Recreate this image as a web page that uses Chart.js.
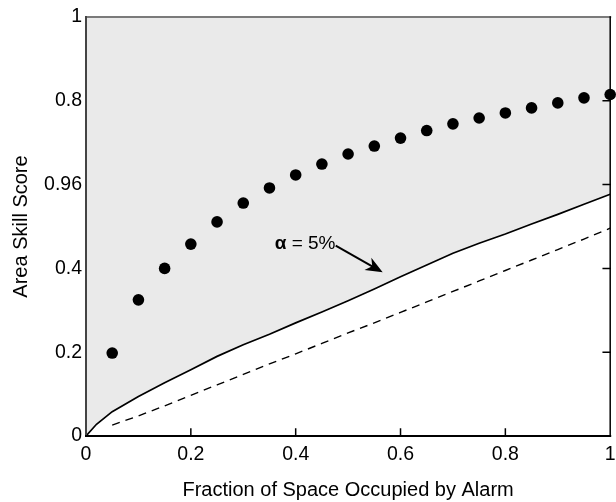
<!DOCTYPE html>
<html>
<head>
<meta charset="utf-8">
<script src="https://cdn.jsdelivr.net/npm/chart.js@4.4.1/dist/chart.umd.min.js"></script>
<style>
html, body { margin: 0; padding: 0; background: #fff; }
#wrap { width: 616px; height: 502px; }
</style>
</head>
<body>
<div id="wrap"><canvas id="chart1"></canvas></div>
<script>
// skill score dots
var dotX = [0.05, 0.1, 0.15, 0.2, 0.25, 0.3, 0.35, 0.4, 0.45, 0.5, 0.55, 0.6, 0.65, 0.7, 0.75, 0.8, 0.85, 0.9, 0.95, 1.0];
var dotY = [0.198, 0.325, 0.40, 0.458, 0.511, 0.556, 0.592, 0.623, 0.649, 0.673, 0.692, 0.711, 0.729, 0.745, 0.759, 0.771, 0.783, 0.795, 0.807, 0.815];

// alpha = 5% line (solid)
var lineX = [0, 0.02, 0.05, 0.1, 0.15, 0.2, 0.25, 0.3, 0.35, 0.4, 0.45, 0.5, 0.55, 0.6, 0.65, 0.7, 0.75, 0.8, 0.85, 0.9, 0.95, 1.0];
var lineY = [0, 0.028, 0.058, 0.094, 0.127, 0.158, 0.19, 0.218, 0.243, 0.27, 0.296, 0.323, 0.351, 0.38, 0.408, 0.436, 0.46, 0.482, 0.506, 0.529, 0.553, 0.577];

// dashed line
var dashX = [0.05, 0.1, 0.15, 0.2, 0.25, 0.3, 0.35, 0.4, 0.45, 0.5, 0.55, 0.6, 0.65, 0.7, 0.75, 0.8, 0.85, 0.9, 0.95, 1.0];
var dashY = [0.026, 0.048, 0.072, 0.097, 0.122, 0.147, 0.172, 0.196, 0.221, 0.246, 0.27, 0.295, 0.32, 0.345, 0.37, 0.395, 0.42, 0.445, 0.47, 0.496];

var xTicks = [0, 0.2, 0.4, 0.6, 0.8, 1];
var xLabels = ['0', '0.2', '0.4', '0.6', '0.8', '1'];
var yTicks = [0, 0.2, 0.4, 0.6, 0.8, 1];
var yLabels = ['0', '0.2', '0.4', '0.96', '0.8', '1'];

var fontName = '"Liberation Sans", Arial, sans-serif';

function toPoints(xs, ys) {
    var pts = [];
    for (let i = 0; i < xs.length; i++) pts.push({x: xs[i], y: ys[i]});
    return pts;
}

// frame, inward ticks and the alpha label
var frame = {
    id: 'frame',
    afterDatasetsDraw: function(chart) {
        var ctx = chart.ctx;
        var a = chart.chartArea;
        var xs = chart.scales.x;
        var ys = chart.scales.y;
        ctx.save();
        ctx.lineCap = 'square';
        ctx.lineWidth = 2;
        ctx.strokeStyle = '#7a7a7a';
        ctx.beginPath(); ctx.moveTo(a.left, a.top); ctx.lineTo(a.right, a.top); ctx.stroke();
        ctx.strokeStyle = '#444';
        ctx.beginPath(); ctx.moveTo(a.left, a.top); ctx.lineTo(a.left, a.bottom); ctx.stroke();
        ctx.strokeStyle = '#000';
        ctx.beginPath(); ctx.moveTo(a.left, a.bottom); ctx.lineTo(a.right, a.bottom); ctx.stroke();
        ctx.lineWidth = 1.5;
        ctx.beginPath(); ctx.moveTo(a.right, a.top); ctx.lineTo(a.right, a.bottom); ctx.stroke();
        // ticks
        ctx.lineWidth = 1.5;
        ctx.beginPath();
        for (let i = 1; i < xTicks.length - 1; i++) {
            var px = xs.getPixelForValue(xTicks[i]);
            ctx.moveTo(px, a.bottom); ctx.lineTo(px, a.bottom - 7);
        }
        for (let i = 1; i < yTicks.length - 1; i++) {
            var py = ys.getPixelForValue(yTicks[i]);
            ctx.moveTo(a.right, py); ctx.lineTo(a.right - 7, py);
        }
        ctx.stroke();

        // alpha label + arrow
        var tx = xs.getPixelForValue(0.36);
        var ty = ys.getPixelForValue(0.458);
        ctx.fillStyle = '#000';
        ctx.textBaseline = 'middle';
        ctx.textAlign = 'left';
        ctx.font = 'bold 19px ' + fontName;
        ctx.fillText('\u03b1', tx, ty);
        var w = ctx.measureText('\u03b1').width;
        ctx.font = '19px ' + fontName;
        ctx.fillText(' = 5%', tx + w, ty);

        var x0 = xs.getPixelForValue(0.478), y0 = ys.getPixelForValue(0.453);
        var x1 = xs.getPixelForValue(0.566), y1 = ys.getPixelForValue(0.391);
        var ang = Math.atan2(y1 - y0, x1 - x0);
        ctx.lineWidth = 2;
        ctx.beginPath(); ctx.moveTo(x0, y0);
        ctx.lineTo(x1 - 10 * Math.cos(ang), y1 - 10 * Math.sin(ang)); ctx.stroke();
        ctx.beginPath();
        ctx.moveTo(x1, y1);
        ctx.lineTo(x1 - 17 * Math.cos(ang) + 7 * Math.sin(ang), y1 - 17 * Math.sin(ang) - 7 * Math.cos(ang));
        ctx.lineTo(x1 - 12 * Math.cos(ang), y1 - 12 * Math.sin(ang));
        ctx.lineTo(x1 - 17 * Math.cos(ang) - 7 * Math.sin(ang), y1 - 17 * Math.sin(ang) + 7 * Math.cos(ang));
        ctx.closePath();
        ctx.fill();
        ctx.restore();
    }
};

var data = {
    datasets: [{
        label: 'skill',
        data: toPoints(dotX, dotY),
        showLine: false,
        pointRadius: 5.8,
        pointBackgroundColor: '#000',
        pointBorderWidth: 0,
        clip: false
    }, {
        label: 'alpha',
        data: toPoints(lineX, lineY),
        showLine: true,
        pointRadius: 0,
        borderColor: '#000',
        borderWidth: 1.7,
        fill: 'end',
        backgroundColor: '#eaeaea'
    }, {
        label: 'random',
        data: toPoints(dashX, dashY),
        showLine: true,
        pointRadius: 0,
        borderColor: '#000',
        borderWidth: 1.4,
        borderDash: [8, 6]
    }]
};

new Chart(document.getElementById('chart1'), {
    type: 'scatter',
    data: data,
    plugins: [frame],
    options: {
        responsive: true,
        maintainAspectRatio: false,
        animation: false,
        layout: { padding: { left: 0, right: 0, top: 17, bottom: 0 } },
        plugins: { legend: { display: false }, tooltip: { enabled: false } },
        scales: {
            x: {
                type: 'linear', min: 0, max: 1,
                afterBuildTicks: function(s) { s.ticks = xTicks.map(function(v) { return {value: v}; }); },
                afterFit: function(s) { s.height = 66; s.paddingLeft = 0; s.paddingRight = 5.5; },
                grid: { display: false, drawTicks: false },
                border: { display: false },
                ticks: {
                    color: '#000', padding: 7, maxRotation: 0,
                    font: { family: fontName, size: 19.5 },
                    callback: function(v) { return xLabels[xTicks.indexOf(v)]; }
                },
                title: {
                    display: true, text: 'Fraction of Space Occupied by Alarm', color: '#000',
                    font: { family: fontName, size: 20 }, padding: { top: 0, bottom: 0 }
                }
            },
            y: {
                type: 'linear', min: 0, max: 1,
                afterBuildTicks: function(s) { s.ticks = yTicks.map(function(v) { return {value: v}; }); },
                afterFit: function(s) { s.width = 86; },
                grid: { display: false, drawTicks: false },
                border: { display: false },
                ticks: {
                    color: '#000', padding: 4,
                    font: { family: fontName, size: 19.5 },
                    callback: function(v) { return yLabels[yTicks.indexOf(v)]; }
                },
                title: {
                    display: true, text: 'Area Skill Score', color: '#000',
                    font: { family: fontName, size: 20 }, padding: { top: 9, bottom: 0 }
                }
            }
        }
    }
});
</script>
</body>
</html>
